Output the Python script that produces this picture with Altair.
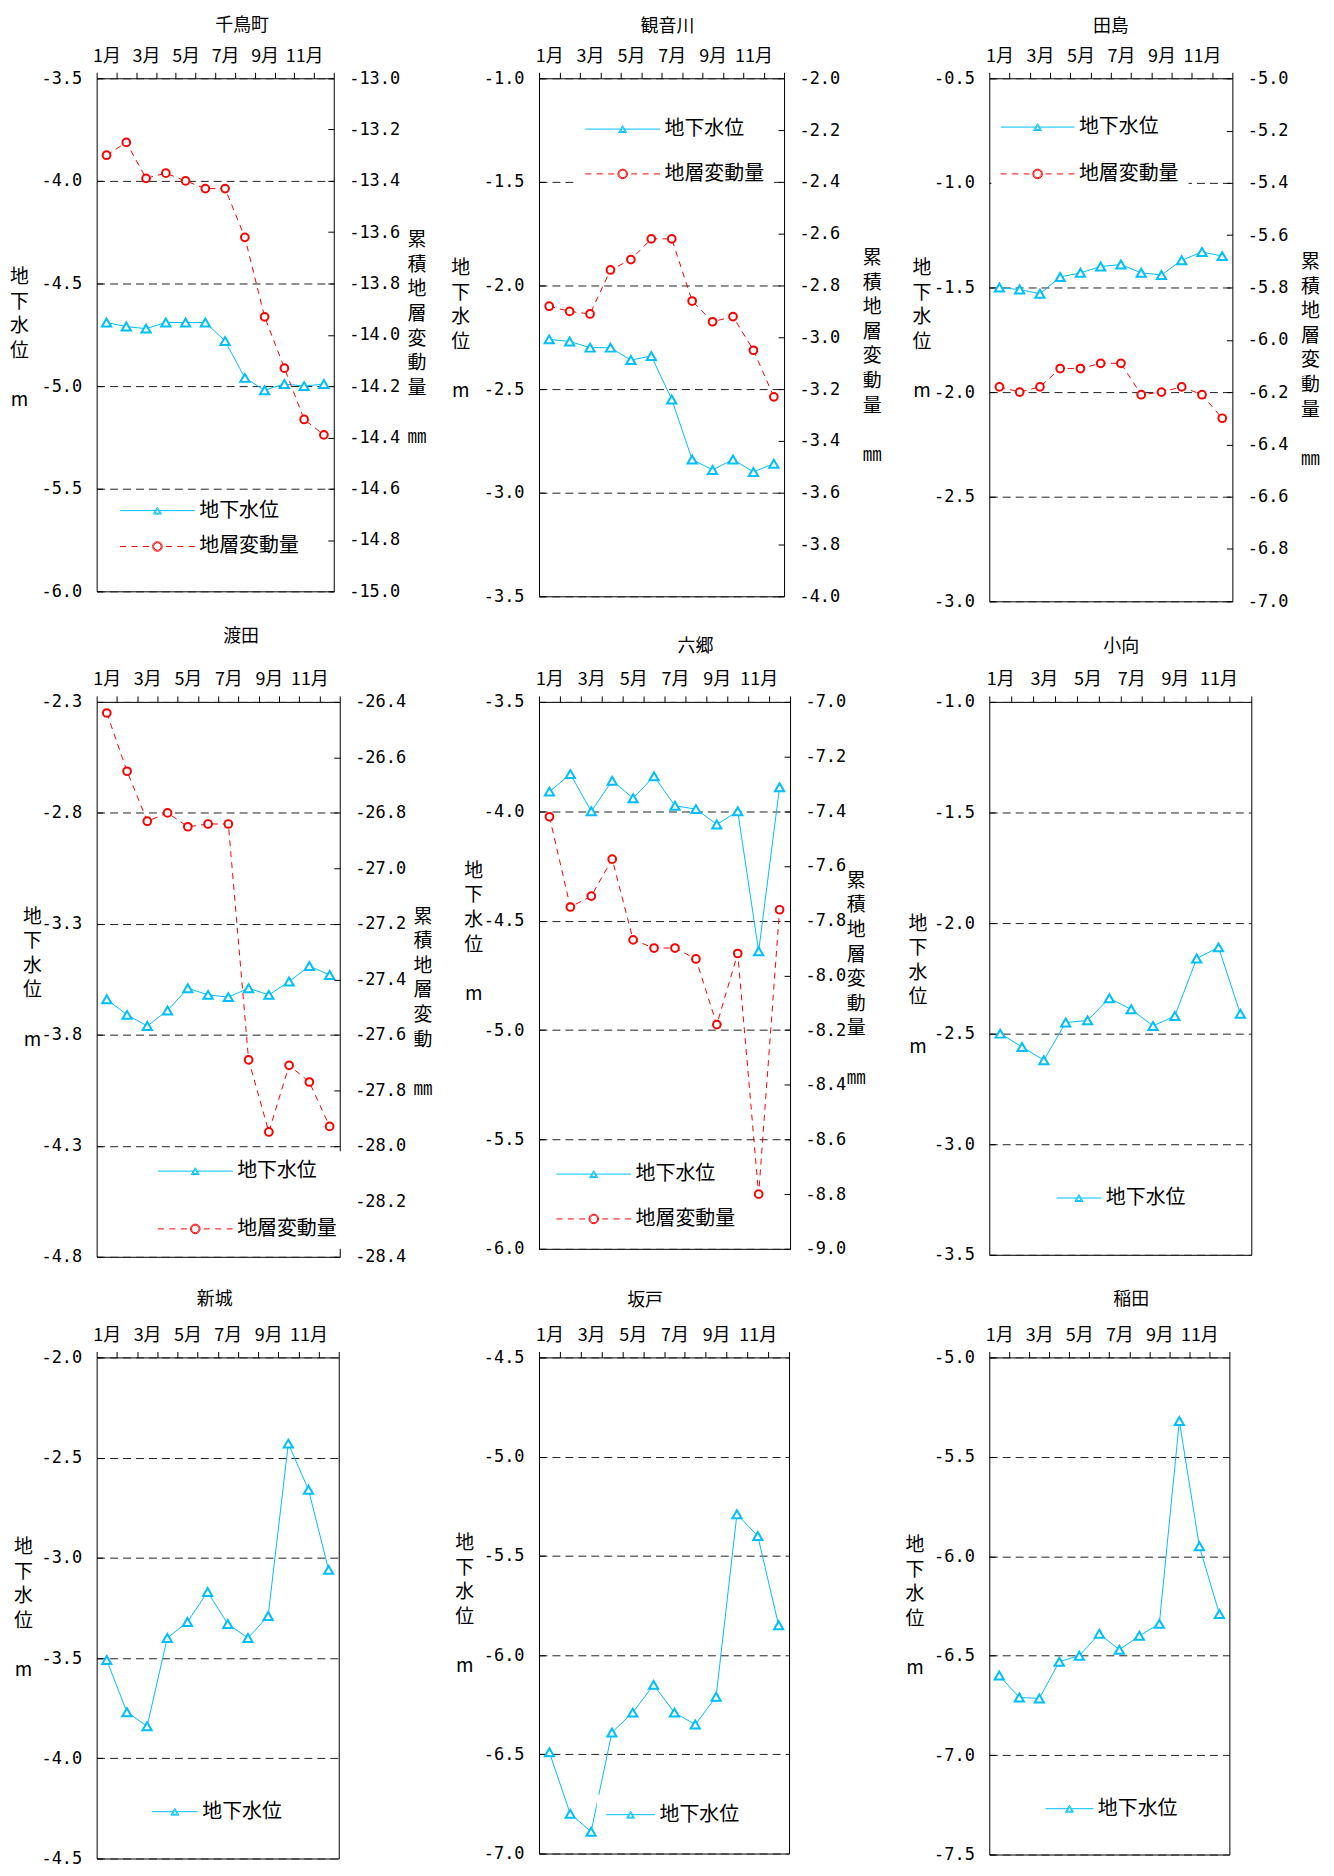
import altair as alt
import pandas as pd

MONTHS = list(range(1, 13))
GW = "地下水位"
SUB = "地層変動量"

# ---- data (m / mm) ----
chidori_gw = [-4.69, -4.71, -4.72, -4.69, -4.69, -4.69, -4.78, -4.96, -5.02, -4.99, -5.00, -4.99]
chidori_sub = [-13.30, -13.25, -13.39, -13.37, -13.40, -13.43, -13.43, -13.62, -13.93, -14.13, -14.33, -14.39]
kannon_gw = [-2.26, -2.27, -2.30, -2.30, -2.36, -2.34, -2.55, -2.84, -2.89, -2.84, -2.90, -2.86]
kannon_sub = [-2.88, -2.90, -2.91, -2.74, -2.70, -2.62, -2.62, -2.86, -2.94, -2.92, -3.05, -3.23]
tajima_gw = [-1.50, -1.51, -1.53, -1.45, -1.43, -1.40, -1.39, -1.43, -1.44, -1.37, -1.33, -1.35]
tajima_sub = [-6.18, -6.20, -6.18, -6.11, -6.11, -6.09, -6.09, -6.21, -6.20, -6.18, -6.21, -6.30]
watarida_gw = [-3.64, -3.71, -3.76, -3.69, -3.59, -3.62, -3.63, -3.59, -3.62, -3.56, -3.49, -3.53]
watarida_sub = [-26.44, -26.65, -26.83, -26.80, -26.85, -26.84, -26.84, -27.69, -27.95, -27.71, -27.77, -27.93]
rokugo_gw = [-3.91, -3.83, -4.00, -3.86, -3.94, -3.84, -3.975, -3.99, -4.06, -4.00, -4.64, -3.89]
rokugo_sub = [-7.42, -7.75, -7.71, -7.575, -7.87, -7.90, -7.90, -7.94, -8.18, -7.92, -8.80, -7.76]
komukai_gw = [-2.50, -2.56, -2.62, -2.45, -2.44, -2.34, -2.39, -2.465, -2.42, -2.16, -2.11, -2.41]
shinjo_gw = [-3.51, -3.77, -3.84, -3.40, -3.32, -3.17, -3.33, -3.40, -3.29, -2.43, -2.66, -3.06]
sakado_gw = [-6.49, -6.80, -6.89, -6.39, -6.29, -6.15, -6.29, -6.35, -6.21, -5.29, -5.40, -5.85]
inada_gw = [-6.60, -6.71, -6.715, -6.53, -6.50, -6.39, -6.47, -6.40, -6.34, -5.32, -5.95, -6.29]

BLUE = "#00BFFF"
RED = "#FF0000"
JP = "Noto Sans CJK JP"
NUM = "DejaVu Sans Mono"

BLANK = "\u2800"
LEFT_TITLE = ["地", "下", "水", "位", BLANK, "m"]
RIGHT_TITLE = ["累", "積", "地", "層", "変", "動", "量", BLANK, "㎜"]
RIGHT_TITLE_SHORT = ["累", "積", "地", "層", "変", "動", BLANK, "㎜"]

LABEL_EXPR = "'-' + format(abs(datum.value), '.1f')"
R = 4.0          # legend marker radius in px (symbolSize = (2R)^2)
LEG_COL = 21.0   # width Vega reserves for the legend symbol column
LH = 24.7        # axis title line height


def tick_values(lo, hi, step):
    n = int(round((hi - lo) / step))
    return [round(lo + i * step, 1) for i in range(n + 1)]


def seg(a, b):
    return f"M{a:.3f},0L{b:.3f},0"


def blue_symbol(L):
    k = L / 2 / R
    tri = "M0,-0.866L1,0.866L-1,0.866Z M0,-0.40L0.6,0.64L-0.6,0.64Z"
    return seg(-k, -0.5) + seg(0.5, k) + tri


def red_symbol(L):
    k = L / 2 / R
    d, g = 6 / R, 5.5 / R
    parts = []
    x = -k
    while x < -1.2:
        e = min(x + d, -1.2)
        parts.append(seg(x, e))
        parts.append(seg(-e, -x))
        x = e + g
    circ = ("M1.2,0A1.2,1.2,0,1,1,-1.2,0A1.2,1.2,0,1,1,1.2,0Z "
            "M0.95,0A0.95,0.95,0,1,1,-0.95,0A0.95,0.95,0,1,1,0.95,0Z")
    return "".join(parts) + circ


XAXIS = alt.Axis(
    orient="top", title=None, labelAngle=0, labelFont=JP, labelFontSize=18,
    labelExpr="datum.value % 2 == 1 ? datum.value + '月' : ''",
    labelPadding=7, tickSize=6, tickBand="extent", domain=False, grid=False,
    labelOverlap=False, tickColor="black", labelColor="black",
)


def panel(name, gw, sub, w, h, ldom, rdom, leg, lt, rt, rtitle, dx, toff):
    x = alt.X("月:O", scale=alt.Scale(paddingInner=0, paddingOuter=0), axis=XAXIS)

    laxis = alt.Axis(
        orient="left", values=tick_values(ldom[0], ldom[1], 0.5), labelExpr=LABEL_EXPR,
        grid=True, gridDash=[8, 5], gridColor="#222", gridWidth=1,
        offset=-6, tickSize=6, domain=False, labelPadding=15, labelOverlap=False,
        title=LEFT_TITLE, titleAngle=0, titleAlign="center", titleBaseline="middle",
        titleX=lt[0] - 6, titleY=lt[1], titleLineHeight=LH,
    )
    df = pd.DataFrame({"月": MONTHS, "gw": gw})
    base = alt.Chart(df).encode(
        x=x, y=alt.Y("gw:Q", scale=alt.Scale(domain=ldom, nice=False, zero=False), axis=laxis)
    )
    gw_layer = base.mark_line(color=BLUE, strokeWidth=1) + base.mark_point(
        shape="triangle-up", size=85, filled=True, fill="white", stroke=BLUE,
        strokeWidth=2, opacity=1,
    )
    layers = [gw_layer]
    dom = [GW]
    syms = [blue_symbol(leg[3])]
    cols = [BLUE]

    if sub is not None:
        raxis = alt.Axis(
            orient="right", values=tick_values(rdom[0], rdom[1], 0.2), labelExpr=LABEL_EXPR,
            grid=False, offset=-6, tickSize=6, domain=False, labelPadding=15,
            labelOverlap=False, title=rtitle, titleAngle=0, titleAlign="center",
            titleBaseline="middle", titleX=rt[0] + 6, titleY=rt[1], titleLineHeight=LH,
        )
        df2 = pd.DataFrame({"月": MONTHS, "sub": sub})
        base2 = alt.Chart(df2).encode(
            x=x, y=alt.Y("sub:Q", scale=alt.Scale(domain=rdom, nice=False, zero=False), axis=raxis)
        )
        sub_layer = base2.mark_line(color=RED, strokeWidth=1, strokeDash=[6, 5]) + base2.mark_point(
            shape="circle", size=60, filled=True, fill="white", stroke=RED,
            strokeWidth=2, opacity=1,
        )
        layers.append(sub_layer)
        dom.append(SUB)
        syms.append(red_symbol(leg[3]))
        cols.append(RED)

    lx, ly1, sp, L = leg
    p = 10
    legend = alt.Legend(
        title=None, orient="none", legendX=lx - p, legendY=ly1 - 10 - p,
        direction="vertical", symbolSize=(2 * R) ** 2, symbolStrokeWidth=1,
        symbolOffset=L / 2 - LEG_COL / 2, labelOffset=L / 2 - LEG_COL / 2 + 5,
        labelFont=JP, labelFontSize=20, labelColor="black", rowPadding=sp - 20,
        padding=p, fillColor="white", labelLimit=300,
    )
    ldf = pd.DataFrame({"s": dom})
    leg_layer = alt.Chart(ldf).transform_filter("false").mark_point(
        filled=False, opacity=1, strokeWidth=1
    ).encode(
        shape=alt.Shape("s:N", scale=alt.Scale(domain=dom, range=syms), legend=legend),
        color=alt.Color("s:N", scale=alt.Scale(domain=dom, range=cols), legend=legend),
    )
    layers.append(leg_layer)

    return alt.layer(*layers).resolve_scale(y="independent").properties(
        width=w, height=h,
        title=alt.TitleParams(
            text=name, font=JP, fontSize=18, fontWeight="normal", anchor="middle",
            dx=dx, offset=toff, color="black",
        ),
    )


panels = [
    panel("千鳥町", chidori_gw, chidori_sub, 238, 515, [-6.0, -3.5], [-15.0, -13.0],
          (24, 434, 36, 75), (-78, 199), (83, 162), RIGHT_TITLE, 27, 12),
    panel("観音川", kannon_gw, kannon_sub, 246, 520, [-3.5, -1.0], [-4.0, -2.0],
          (47, 51, 45, 75), (-79, 190), (88, 180), RIGHT_TITLE, 6, 11),
    panel("田島", tajima_gw, tajima_sub, 244, 525, [-3.0, -0.5], [-7.0, -5.0],
          (12, 49, 47, 74), (-68, 190), (78, 184), RIGHT_TITLE, 0, 11),
    panel("渡田", watarida_gw, watarida_sub, 244, 557, [-4.8, -2.3], [-28.4, -26.4],
          (62, 471, 58, 75), (-65, 215), (83, 215), RIGHT_TITLE_SHORT, 23, 25),
    panel("六郷", rokugo_gw, rokugo_sub, 252, 549, [-6.0, -3.5], [-9.0, -7.0],
          (18, 474, 45, 75), (-66, 169), (66, 179), RIGHT_TITLE, 31, 15),
    panel("小向", komukai_gw, None, 263, 555, [-3.5, -1.0], None,
          (68, 498, 40, 45), (-72, 222), None, None, 1, 15),
    panel("新城", shinjo_gw, None, 243, 503, [-4.5, -2.0], None,
          (56, 456, 40, 46), (-74, 190), None, None, -3, 18),
    panel("坂戸", sakado_gw, None, 251, 498, [-7.0, -4.5], None,
          (68, 459, 40, 49), (-75, 186), None, None, -19, 17),
    panel("稲田", inada_gw, None, 241, 499, [-7.5, -5.0], None,
          (57, 453, 40, 48), (-75, 188), None, None, 22, 18),
]

chart = alt.concat(
    *panels, columns=3, spacing={"row": 101, "column": 200}, bounds="flush", align="each"
).resolve_scale(
    color="independent", shape="independent"
).properties(
    padding={"left": 0, "top": 5, "right": 5, "bottom": 2}, background="white"
).configure_view(
    stroke="black", strokeWidth=1
).configure_axis(
    labelFont=NUM, labelFontSize=17, labelColor="black", titleFont=JP,
    titleFontSize=19, titleFontWeight="normal", titleColor="black", tickColor="black",
    titleLineHeight=LH,
)

chart.save("out.html", embed_options={"renderer": "svg", "actions": False})
